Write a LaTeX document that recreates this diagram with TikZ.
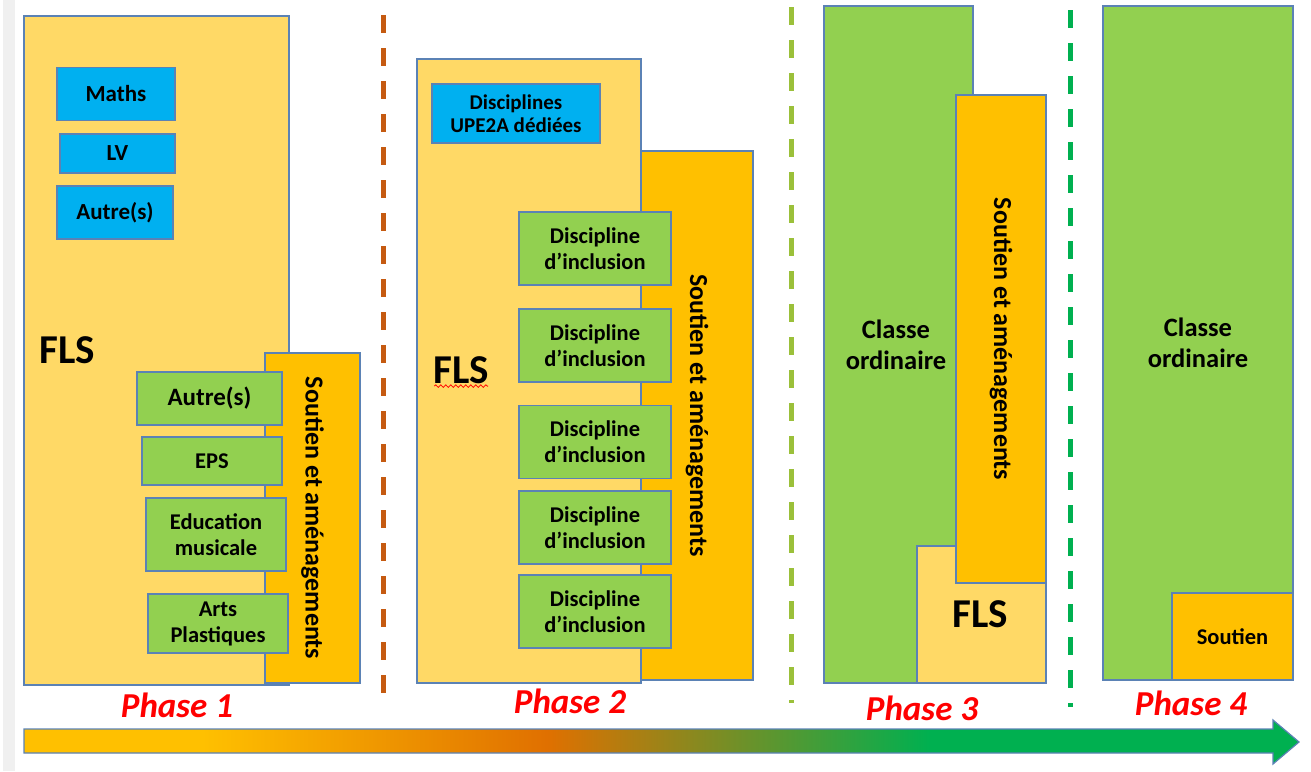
\documentclass[tikz,border=0pt]{standalone}
\usepackage{fontspec}
\setmainfont{Carlito}
\usetikzlibrary{decorations.pathmorphing}

\definecolor{flsyel}{HTML}{FFD966}
\definecolor{soutorg}{HTML}{FFC000}
\definecolor{discblue}{HTML}{00B0F0}
\definecolor{discgreen}{HTML}{92D050}
\definecolor{edgeblue}{HTML}{5B82B5}
\definecolor{phred}{HTML}{FF0000}
\definecolor{sepbrown}{HTML}{C55A11}
\definecolor{seplime}{HTML}{9BC03A}
\definecolor{sepgreen}{HTML}{00B050}
\definecolor{arrorg}{HTML}{E07000}
\pgfdeclarehorizontalshading{progress}{100bp}{color(0bp)=(soutorg); color(32bp)=(soutorg); color(45.5bp)=(arrorg); color(60.5bp)=(sepgreen); color(100bp)=(sepgreen)}

\begin{document}
\begin{tikzpicture}[x=1pt,y=-1pt,
	blk/.style={draw=edgeblue,line width=1.2pt,inner sep=0pt},
	blubox/.style={blk,fill=discblue,font=\bfseries\fontsize{23}{25}\selectfont,align=center},
	grnbox/.style={blk,fill=discgreen,font=\bfseries\fontsize{22.5}{26}\selectfont,align=center},
	soutbox/.style={blk,fill=soutorg},
	vtext/.style={rotate=-90,font=\bfseries\fontsize{26}{28}\selectfont},
	flstext/.style={font=\bfseries\fontsize{41}{43}\selectfont},
	classtext/.style={font=\bfseries\fontsize{26.5}{31}\selectfont,align=center},
	phase/.style={text=phred,font=\bfseries\itshape\fontsize{35}{38}\selectfont},
	sepline/.style={line width=5pt,dash pattern=on 18pt off 15pt}]
	\useasboundingbox (0,0) rectangle (1311,771);
	\fill [gray!12] (3,0) rectangle (15,771);

	% Phase 1
	\node[blk,fill=flsyel,minimum width=265,minimum height=669] (fls1) at (156.5,350.5) {};
	\node[flstext] (flslbl1) at (67,350) {FLS};
	\node[soutbox,minimum width=95,minimum height=330] (sout1) at (312.5,518) {};
	\node[vtext] (soutlbl1) at (sout1.center) {Soutien et aménagements};
	\node[blubox,minimum width=118,minimum height=53] (maths) at (116,94) {Maths};
	\node[blubox,minimum width=115,minimum height=39] (lv) at (117.5,153.5) {LV};
	\node[blubox,minimum width=116,minimum height=53] (autreb) at (115,212.5) {Autre(s)};
	\node[grnbox,minimum width=145,minimum height=53,font=\bfseries\fontsize{25}{27}\selectfont] (autreg) at (209.5,398.5) {Autre(s)};
	\node[grnbox,minimum width=140,minimum height=48] (eps) at (212,461) {EPS};
	\node[grnbox,minimum width=140,minimum height=73] (educ) at (216,534.5) {Education\\musicale};
	\node[grnbox,minimum width=140,minimum height=59] (arts) at (218,623.5) {Arts\\Plastiques};
	\node[phase] (phase1) at (177,705) {Phase 1};

	\draw [sepline,sepbrown] (383,15) -- (383,707);

	% Phase 2
	\node[blk,fill=flsyel,minimum width=224,minimum height=624] (fls2) at (529,371) {};
	\node[soutbox,minimum width=112,minimum height=529] (sout2) at (697,415.5) {};
	\node[vtext] (soutlbl2) at (sout2.center) {Soutien et aménagements};
	\node[flstext] (flslbl2) at (461.5,370) {FLS};
	\draw [red,line width=0.8pt,decorate,decoration={snake,amplitude=1.3pt,segment length=5pt}] (flslbl2.south west) ++(4,-1) coordinate (wavy) -- ++(54,0);
	\node[blubox,minimum width=168,minimum height=59,font=\bfseries\fontsize{21}{23}\selectfont] (upe2a) at (516,113.5) {Disciplines\\UPE2A dédiées};
	\foreach \y [count=\i] in {248.5,345.5,442,527.5,611.5}
		\node[grnbox,minimum width=152,minimum height=73] (incl\i) at (595,\y) {Discipline\\d’inclusion};
	\node[phase] (phase2) at (570,701) {Phase 2};

	\draw [sepline,seplime] (791,7) -- (791,703);

	% Phase 3
	\node[blk,fill=discgreen,minimum width=149,minimum height=677] (classe3) at (898.5,344.5) {};
	\node[classtext] (classelbl3) at (896,345) {Classe\\ordinaire};
	\node[blk,fill=flsyel,minimum width=129,minimum height=137] (fls3) at (981.5,614.5) {};
	\node[flstext] (flslbl3) at (980,614) {FLS};
	\node[soutbox,minimum width=90,minimum height=488] (sout3) at (1001,339) {};
	\node[vtext] (soutlbl3) at (sout3.center) {Soutien et aménagements};
	\node[phase] (phase3) at (922,708) {Phase 3};

	\draw [sepline,sepgreen] (1070,10) -- (1070,707);

	% Phase 4
	\node[blk,fill=discgreen,minimum width=190,minimum height=674,classtext] (classe4) at (1198,343) {Classe\\ordinaire};
	\node[soutbox,minimum width=121,minimum height=87,font=\bfseries\fontsize{22.5}{24}\selectfont] (sout4) at (1232.5,636.5) {Soutien};
	\node[phase] (phase4) at (1191,703) {Phase 4};

	% time arrow
	\shadedraw [shading=progress,draw=edgeblue,line width=1.2pt] (24,729) -- (1273,729) -- (1273,720) -- (1299,742) -- (1273,764) -- (1273,753) -- (24,753) -- cycle;
\end{tikzpicture}
\end{document}
